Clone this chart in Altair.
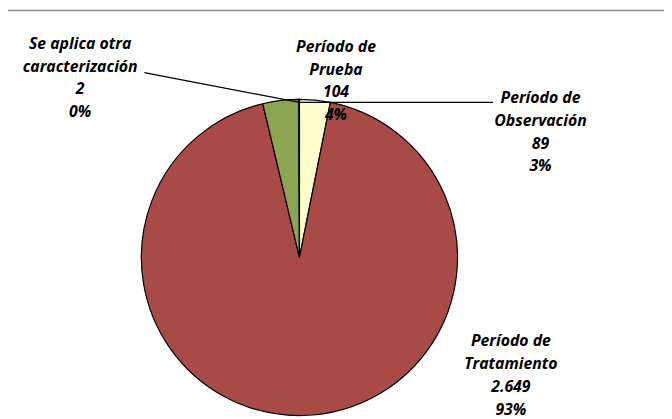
import altair as alt
import pandas as pd

categories = ["Período de Observación", "Período de Tratamiento", "Período de Prueba",
              "Se aplica otra caracterización"]
wrapped = ["Período de\nObservación", "Período de\nTratamiento", "Período de\nPrueba",
           "Se aplica otra\ncaracterización"]
values = [89, 2649, 104, 2]
colors = ["#FFFFCC", "#A84A46", "#8BA552", "#4F81BD"]

total = sum(values)
df = pd.DataFrame({
    "cat": categories,
    "value": values,
    "order": list(range(len(values))),
})
df["label"] = [
    f"{w}\n{v:,}".replace(",", ".") + f"\n{round(v / total * 100)}%"
    for w, v in zip(wrapped, values)
]

W, H = 664, 411
CX, CY, R = 295, 250, 160
FONT = "Open Sans"

pie = alt.Chart(df).mark_arc(outerRadius=R, stroke="black", strokeWidth=1.2).encode(
    theta=alt.Theta("value:Q", stack=True),
    order=alt.Order("order:Q"),
    color=alt.Color("cat:N", scale=alt.Scale(domain=categories, range=colors), legend=None),
    x=alt.value(CX),
    y=alt.value(CY),
)

# label anchor positions (layout, chart pixel coords: center x, top y)
label_pos = {
    "Período de Observación": (539, 81),
    "Período de Tratamiento": (509, 327),
    "Período de Prueba": (332, 29),
    "Se aplica otra caracterización": (73, 26),
}

layers = [pie]
for cat, (lx, ly) in label_pos.items():
    layers.append(
        alt.Chart(df).transform_filter(alt.datum.cat == cat).mark_text(
            font=FONT, fontSize=16, fontWeight="bold", fontStyle="italic",
            lineBreak="\n", lineHeight=23, align="center", baseline="top", color="black",
        ).encode(text="label:N", x=alt.value(lx), y=alt.value(ly))
    )

lead = pd.DataFrame({"k": [0]})
leaders = [((138, 63), (CX, 93)), ((CX, 93), (491, 93))]
for (x1, y1), (x2, y2) in leaders:
    layers.append(
        alt.Chart(lead).mark_rule(color="black", strokeWidth=1.3).encode(
            x=alt.value(x1), y=alt.value(y1), x2=alt.value(x2), y2=alt.value(y2)
        )
    )

layers.append(
    alt.Chart(lead).mark_rule(color="#8a8a8a", strokeWidth=1.5).encode(
        x=alt.value(-10), x2=alt.value(W + 10), y=alt.value(0)
    )
)

chart = alt.layer(*layers).properties(
    width=W, height=H, autosize=alt.AutoSizeParams(type="none"), padding=0
).configure_view(stroke=None)

chart.save("out.html", embed_options={"renderer": "svg", "actions": False})
